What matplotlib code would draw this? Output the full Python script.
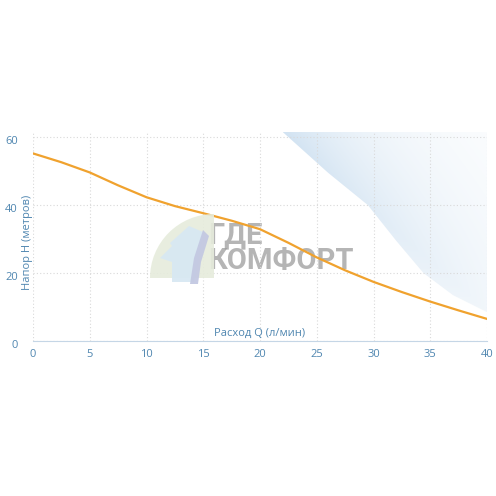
import numpy as np
import matplotlib
matplotlib.use("Agg")
import matplotlib.pyplot as plt
import matplotlib.transforms as mtransforms
from matplotlib.patches import Polygon, Wedge

# Данные кривой насоса: расход Q (л/мин) и напор H (м)
flow = [0, 2.5, 5, 7.5, 10, 12.5, 15, 17.5, 20, 22.5, 25, 27.5, 30, 32.5, 35, 37.5, 40]
head = [55.2, 52.6, 49.6, 45.8, 42.3, 39.7, 37.6, 35.4, 32.9, 28.9, 24.6, 20.8, 17.4, 14.4, 11.6, 9.0, 6.5]

x_ticks = [0, 5, 10, 15, 20, 25, 30, 35, 40]
y_ticks = [0, 20, 40, 60]

# Граница декоративной заливки справа вверху
shade_x = [22, 26, 29.5, 32, 34.4, 37, 40]
shade_y = [61.5, 49.5, 40, 29.5, 20, 13.5, 8.5]

plt.rcParams['font.family'] = ['Open Sans', 'DejaVu Sans']
tick_color = '#4f86b0'

W = 496


def px(points):
    # пиксели картинки -> доли фигуры
    return [(x / W, 1 - y / W) for x, y in points]


fig = plt.figure(figsize=(4.96, 4.96), dpi=100)
ax = fig.add_axes([33 / W, 1 - 341 / W, 454 / W, 209 / W])
ax.set_xlim(0, 40)
ax.set_ylim(0, 61.5)

# Градиентная заливка: ярче у диагонали, бледнее к правому краю
verts = list(zip(shade_x, shade_y)) + [(40, 61.5)]
poly = Polygon(verts, closed=True, facecolor='none', edgecolor='none')
ax.add_patch(poly)
gx, gy = np.meshgrid(np.linspace(22, 40, 300), np.linspace(8.5, 61.5, 300))
ppx = (gx - 22) * 11.35
ppy = (61.5 - gy) * 3.4
dist = np.clip((ppx * 180 - ppy * 204) / 272.0, 0, None)
grad = np.exp(-dist / 60.0) * (0.3 + 0.7 * (gy - 8.5) / 53.0)
cmap = matplotlib.colors.LinearSegmentedColormap.from_list('sh', ['#ffffff', '#d2e3f2'])
im = ax.imshow(grad, extent=[22, 40, 8.5, 61.5], origin='lower', cmap=cmap,
               aspect='auto', zorder=0.5, vmin=0, vmax=1)
im.set_clip_path(poly)

ax.set_xticks(x_ticks)
ax.set_yticks(y_ticks)
ax.grid(True, color='#d9d9d9', linestyle=(0, (1, 2)), linewidth=0.8)
for s in ['left', 'right', 'top']:
    ax.spines[s].set_visible(False)
ax.spines['bottom'].set_color('#c5d6e6')
ax.tick_params(length=0, colors=tick_color, labelsize=8)
ax.tick_params(axis='x', pad=6)
ax.tick_params(axis='y', pad=11)
off = mtransforms.ScaledTranslation(0, -3 / 100, fig.dpi_scale_trans)
for lab in ax.get_yticklabels():
    lab.set_transform(lab.get_transform() + off)

# Водяной знак: логотип и надпись
fig.patches.append(Wedge((214 / W, 1 - 278 / W), 64 / W, 90, 180,
                         transform=fig.transFigure, facecolor='#e6ecdc', alpha=0.9))
fig.patches.append(Polygon(px([(160, 258), (172, 246), (170, 243), (189, 226), (203, 232),
                               (194, 282), (172, 282), (172, 262)]),
                           transform=fig.transFigure, facecolor='#d8e8f3', alpha=0.95))
fig.patches.append(Polygon(px([(203, 230), (209, 236), (201, 262), (198, 284), (190, 284),
                               (194, 258)]),
                           transform=fig.transFigure, facecolor='#c3c9e2', alpha=0.95))
ax.text(15.4, 27.3, 'ГДЕ\nКОМФОРТ', fontsize=21, fontweight='bold', color='#9c9c9c',
        alpha=0.75, linespacing=0.92, va='center', ha='left', zorder=1,
        family=['Roboto', 'DejaVu Sans'])

ax.plot(flow, head, color='#f0a22e', linewidth=1.6, zorder=3)

ax.text(-0.45, 29, 'Напор H (метров)', rotation=90, color=tick_color, fontsize=8,
        ha='center', va='center')
ax.text(20.0, 0.7, 'Расход Q (л/мин)', color=tick_color, fontsize=8,
        ha='center', va='bottom')

fig.savefig('out.png', dpi=100)
